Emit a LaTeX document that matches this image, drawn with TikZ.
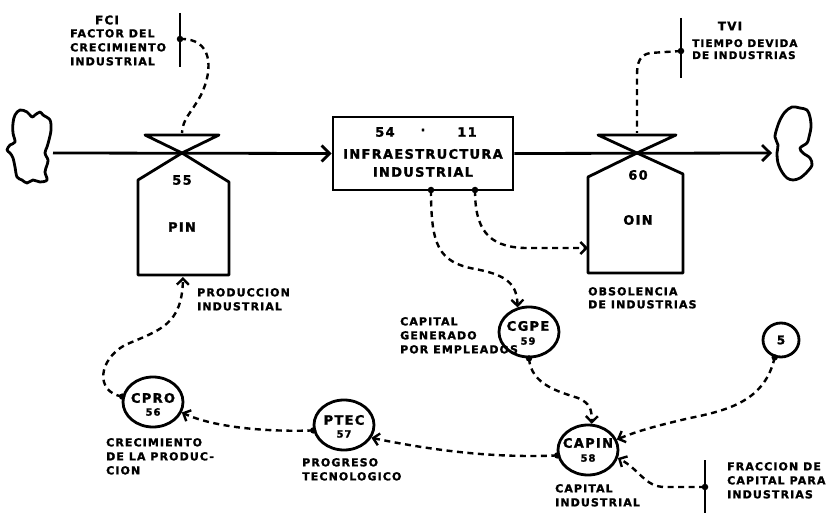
\documentclass[tikz,border=0pt]{standalone}
\usepackage{fontspec}
\setmainfont{DejaVu Sans}[LetterSpace=10, BoldFeatures={FakeBold=1.5}]
\usetikzlibrary{shapes.geometric,arrows.meta}
\begin{document}
\begin{tikzpicture}[x=1pt,y=-1pt,
  lw/.style={line width=2.8pt, line join=round},
  flow/.style={line width=2.8pt},
  flowarr/.style={flow, -{Straight Barb[length=8pt,width=16pt,line width=2.8pt]}},
  info/.style={line width=2.4pt, dash pattern=on 6pt off 4.5pt},
  infoarr/.style={info, -{Straight Barb[length=6pt,width=12pt,line width=2.4pt]}},
  dotn/.style={circle, fill, inner sep=0pt, minimum size=6.5pt},
  lbl/.style={inner sep=0pt, align=left, anchor=north west, font=\fontsize{11}{14}\selectfont\bfseries},
  tlbl/.style={inner sep=0pt, align=left, anchor=north west, font=\fontsize{10.5}{12}\selectfont\bfseries},
  big/.style={inner sep=0pt, font=\fontsize{13}{15}\selectfont\bfseries},
  num/.style={inner sep=0pt, font=\fontsize{10}{12}\selectfont\bfseries},
  proc/.style={draw, ellipse, line width=2.8pt, minimum width=60pt, minimum height=50pt, inner sep=0pt}]
\useasboundingbox (0,0) rectangle (838,513);

% clouds
\draw[lw] plot[smooth cycle, tension=0.55] coordinates {(15,115) (20,110) (27,112) (32,117) (35,115) (40,112) (43,115) (50,120) (51,130) (49,140) (47,147) (45,153) (48,160) (47,165) (45,172) (47,180) (40,182) (33,180) (27,183) (22,180) (17,177) (15,167) (13,158) (10,153) (7,150) (10,145) (15,142) (13,133) (13,123)};
\draw[lw] plot[smooth cycle, tension=0.55] coordinates {(780,120) (785,112) (792,107) (800,108) (807,110) (810,117) (811,127) (809,137) (807,143) (800,148) (803,153) (810,158) (812,165) (807,172) (800,178) (793,180) (787,178) (782,172) (778,163) (777,153) (778,145) (775,137) (777,128)};

% stock box
\node[draw, line width=2.8pt, minimum width=180pt, minimum height=73pt, inner sep=0pt] (infra) at (423,153.5) {};
\node[big] (n54) at (385,132) {54};
\node[big] (ndot) at (423,130) {.};
\node[big] (n11) at (467,132) {11};
\node[big, align=center, font=\fontsize{13}{18}\selectfont\bfseries] (infrat) at (423,163) {INFRAESTRUCTURA\\INDUSTRIAL};

% main flow
\coordinate (cl) at (53,153);
\coordinate (v1) at (182,153);
\coordinate (v2) at (637,153);
\coordinate (cr) at (772,153);
\draw[flowarr] (cl) -- (infra.west);
\draw[flowarr] (infra.east) -- (cr);

% valve 1 + PIN
\draw[lw] (145,135) -- (219,135) -- (v1) -- cycle;
\draw[lw] (v1) -- (138,180) -- (138,275) -- (229,275) -- (229,182) -- cycle;
\node[big] (n55) at (182,180) {55};
\node[big] (pin) at (182,227) {PIN};
\coordinate (v1top) at (182,133);
\coordinate (pinb) at (183,277);

% valve 2 + OIN
\draw[lw] (598,135) -- (676,135) -- (v2) -- cycle;
\draw[lw] (v2) -- (588,177) -- (588,273) -- (683,273) -- (683,174) -- cycle;
\node[big] (n60) at (638,175) {60};
\node[big] (oin) at (638,220) {OIN};
\coordinate (v2top) at (637,133);
\coordinate (oinl) at (588,248);

% FCI
\draw[lw] (180,13) -- (180,67);
\node[dotn] (fcid) at (180,39) {};
\node[big, font=\fontsize{12}{14}\selectfont\bfseries] (fci) at (107,20) {FCI};
\node[lbl] (fcit) at (70,29) {FACTOR DEL\\CRECIMIENTO\\INDUSTRIAL};

% TVI
\draw[lw] (681,18) -- (681,78);
\node[dotn] (tvid) at (681,51) {};
\node[big, font=\fontsize{12}{14}\selectfont\bfseries] (tvi) at (730,26) {TVI};
\node[tlbl] (tvit) at (692,39) {TIEMPO DEVIDA\\DE INDUSTRIAS};

% FRACCION
\draw[lw] (705,460) -- (705,513);
\node[dotn] (frd) at (705,487) {};
\node[lbl] (frt) at (727,462) {FRACCION DE\\CAPITAL PARA\\INDUSTRIAS};

% auxiliaries
\node[proc] (cpro) at (153,402) {};
\node[big] (cprot) at (153,398) {CPRO};
\node[num] (cpron) at (153,412) {56};
\node[proc] (ptec) at (344,425) {};
\node[big] (ptect) at (344,420) {PTEC};
\node[num] (ptecn) at (344,434) {57};
\node[proc] (capin) at (588,450) {};
\node[big] (capint) at (588,443) {CAPIN};
\node[num] (capinn) at (588,458) {58};
\node[proc] (cgpe) at (529,332) {};
\node[big] (cgpet) at (528,326) {CGPE};
\node[num] (cgpen) at (528,341) {59};
\node[draw, ellipse, line width=2.8pt, minimum width=36pt, minimum height=34pt, inner sep=0pt, font=\fontsize{12}{12}\selectfont\bfseries] (five) at (781,340) {5};

% labels
\node[lbl] (prodt) at (197,288) {PRODUCCION\\INDUSTRIAL};
\node[lbl, font=\fontsize{11}{13}\selectfont\bfseries] (obst) at (588,287) {OBSOLENCIA\\DE INDUSTRIAS};
\node[lbl] (cgpel) at (400,317) {CAPITAL\\GENERADO\\POR EMPLEADOS};
\node[lbl] (cprol) at (106,438) {CRECIMIENTO\\DE LA PRODUC-\\CION};
\node[lbl] (ptecl) at (302,458) {PROGRESO\\TECNOLOGICO};
\node[lbl] (capinl) at (555,484) {CAPITAL\\INDUSTRIAL};

% box bottom dots
\node[dotn] (db1) at (431,190) {};
\node[dotn] (db2) at (475,190) {};

% information links
\draw[info] (fcid.center) .. controls (212,38) and (214,68) .. (201,95) .. controls (190,115) and (183,118) .. (v1top);
\draw[info] (tvid.center) -- (650,53) .. controls (640,55) and (637,62) .. (637,75) -- (v2top);
\draw[infoarr] (db1.center) .. controls (431,245) and (438,262) .. (475,269) .. controls (508,275) and (517,285) .. (cgpe.115);
\draw[infoarr] (db2.center) .. controls (475,228) and (487,247) .. (525,248) -- (oinl);
\fill (cgpe.south) circle (3.2);
\draw[infoarr] (cgpe.south) .. controls (531,385) and (560,392) .. (578,398) .. controls (590,403) and (592,410) .. (capin.82);
\fill (five.250) circle (3.2);
\draw[infoarr] (five.250) .. controls (765,400) and (730,410) .. (690,418) .. controls (660,425) and (640,430) .. (capin.20);
\draw[infoarr] (frd.center) -- (665,487) .. controls (645,487) and (640,470) .. (capin.-15);
\fill (capin.190) circle (3.2);
\draw[infoarr] (capin.190) .. controls (500,458) and (440,452) .. (ptec.-25);
\fill (ptec.190) circle (3.2);
\draw[infoarr] (ptec.190) .. controls (270,432) and (215,428) .. (cpro.-20);
\fill (cpro.170) circle (3.2);
\draw[infoarr] (cpro.170) .. controls (95,392) and (98,360) .. (125,345) .. controls (160,330) and (182,325) .. (pinb);
\end{tikzpicture}
\end{document}
